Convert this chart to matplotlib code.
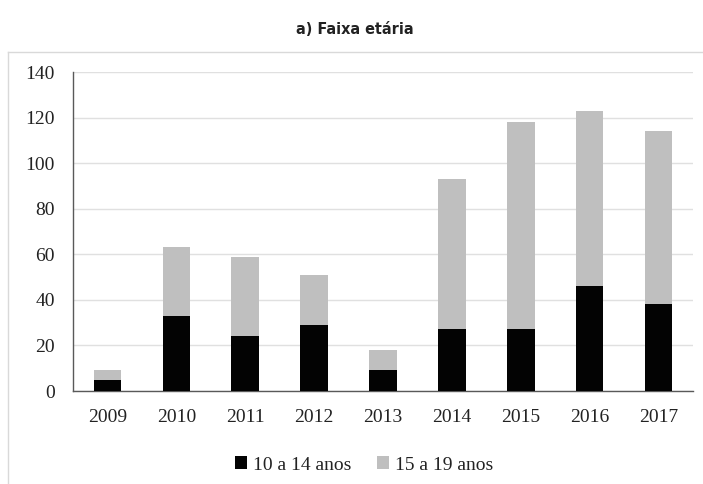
import matplotlib
matplotlib.use('Agg')
import matplotlib.pyplot as plt
from matplotlib.lines import Line2D
import numpy as np

years = ['2009', '2010', '2011', '2012', '2013', '2014', '2015', '2016', '2017']
age_10_14 = [5, 33, 24, 29, 9, 27, 27, 46, 38]
age_15_19 = [4, 30, 35, 22, 9, 66, 91, 77, 76]
series_labels = ['10 a 14 anos', '15 a 19 anos']

W, H = 703, 484
serif = ['Liberation Serif', 'DejaVu Serif']

fig = plt.figure(figsize=(W / 100, H / 100), dpi=100)
ax = fig.add_axes([73 / W, 1 - 391 / H, (693 - 73) / W, (391 - 72) / H])

x = np.arange(len(years))
ax.bar(x, age_10_14, width=0.4, color='#030303', label=series_labels[0], zorder=3)
ax.bar(x, age_15_19, width=0.4, bottom=age_10_14, color='#bfbfbf',
       label=series_labels[1], zorder=3)

ax.set_xlim(-0.5, len(years) - 0.5)
ax.set_ylim(0, 140)
ax.set_yticks(range(0, 141, 20))
ax.set_xticks(x)
ax.set_xticklabels(years)
ax.grid(axis='y', color='#e0e0e0', lw=1, zorder=0)
for s in ['top', 'right']:
    ax.spines[s].set_visible(False)
for s in ['left', 'bottom']:
    ax.spines[s].set_color('#595959')
    ax.spines[s].set_linewidth(1)
ax.tick_params(length=0, labelsize=14, colors='#222222')
ax.tick_params(axis='x', pad=13)
ax.tick_params(axis='y', pad=13)
for lab in ax.get_xticklabels() + ax.get_yticklabels():
    lab.set_family(serif)

leg = fig.legend(loc='center', bbox_to_anchor=(364 / W, 1 - 465 / H), ncol=2,
                 frameon=False, handlelength=0.65, handleheight=0.65,
                 handletextpad=0.3, columnspacing=1.3,
                 prop={'family': serif, 'size': 14})
for t in leg.get_texts():
    t.set_color('#222222')

fig.text(355 / W, 1 - 29 / H, 'a) Faixa etária', ha='center', va='center',
         fontsize=11.5, fontstretch='condensed', fontweight='bold', color='#222222',
         family=['Liberation Sans Narrow', 'DejaVu Sans'])

# outer frame (top and left edges)
fig.add_artist(Line2D([8 / W, 1], [1 - 52 / H, 1 - 52 / H], color='#d9d9d9', lw=1))
fig.add_artist(Line2D([8 / W, 8 / W], [0, 1 - 52 / H], color='#d9d9d9', lw=1))

fig.savefig('out.png', dpi=100)
